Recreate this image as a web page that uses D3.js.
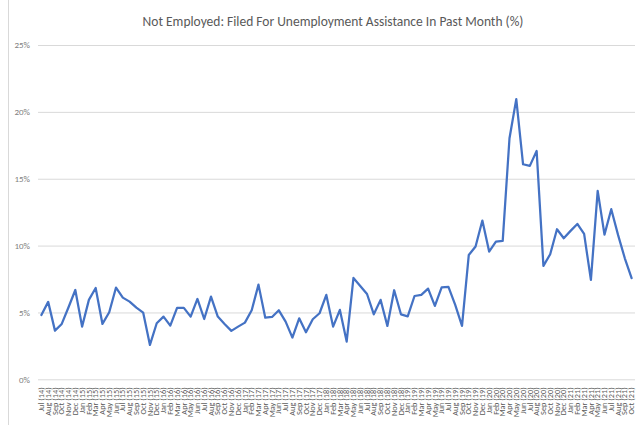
<!DOCTYPE html>
<html><head><meta charset="utf-8">
<script src="https://cdn.jsdelivr.net/npm/d3@7"></script>
<style>body{margin:0;background:#fff;}svg{display:block;}</style>
</head><body><svg id="c" width="637" height="425"></svg>
<script>
const title = "Not Employed: Filed For Unemployment Assistance In Past Month (%)";
const categories = [
"Jul (14)","Aug (14)","Sep (14)","Oct (14)","Nov (14)","Dec (14)",
"Jan (15)","Feb (15)","Mar (15)","Apr (15)","May (15)","Jun (15)","Jul (15)","Aug (15)","Sep (15)","Oct (15)","Nov (15)","Dec (15)",
"Jan (16)","Feb (16)","Mar (16)","Apr (16)","May (16)","Jun (16)","Jul (16)","Aug (16)","Sep (16)","Oct (16)","Nov (16)","Dec (16)",
"Jan (17)","Feb (17)","Mar (17)","Apr (17)","May (17)","Jun (17)","Jul (17)","Aug (17)","Sep (17)","Oct (17)","Nov (17)","Dec (17)",
"Jan (18)","Feb (18)","Mar (18)","Apr (18)","May (18)","Jun (18)","Jul (18)","Aug (18)","Sep (18)","Oct (18)","Nov (18)","Dec (18)",
"Jan (19)","Feb (19)","Mar (19)","Apr (19)","May (19)","Jun (19)","Jul (19)","Aug (19)","Sep (19)","Oct (19)","Nov (19)","Dec (19)",
"Jan (20)","Feb (20)","Mar (20)","Apr (20)","May (20)","Jun (20)","Jul (20)","Aug (20)","Sep (20)","Oct (20)","Nov (20)","Dec (20)",
"Jan (21)","Feb (21)","Mar (21)","Apr (21)","May (21)","Jun (21)","Jul (21)","Aug (21)","Sep (21)","Oct (21)"
];
const values = [
4.81,5.79,3.64,4.14,5.39,6.68,3.94,5.94,6.83,4.14,5.01,6.86,6.11,5.81,5.36,4.99,2.57,4.19,
4.69,4.01,5.34,5.34,4.69,6.01,4.51,6.18,4.69,4.14,3.62,3.94,
4.24,5.16,7.08,4.61,4.66,5.16,4.31,3.12,4.56,3.52,4.49,4.94,
6.31,3.94,5.19,2.82,7.58,6.98,6.38,4.86,5.94,3.99,6.66,4.86,
4.71,6.23,6.31,6.78,5.49,6.88,6.91,5.56,3.99,9.30,9.93,11.87,
9.55,10.30,10.35,18.03,20.95,16.08,15.96,17.08,8.48,9.35,11.22,10.55,
11.10,11.62,10.87,7.43,14.09,10.82,12.72,10.80,9.05,7.56
];
const yTicks = [0,5,10,15,20,25];

const svg = d3.select("#c");
const font = "Calibri, Carlito, Lato, 'Open Sans', sans-serif";
const L = 38, R = 635, T = 45, B = 379.3;
const x = d3.scaleBand().domain(categories).range([L, R]);
const y = d3.scaleLinear().domain([0, 25]).range([B, T]);

// chart border (left edge visible)
svg.append("line").attr("x1",8.5).attr("x2",8.5).attr("y1",0).attr("y2",425)
  .attr("stroke","#d9d9d9").attr("stroke-width",1);

svg.append("text").attr("x", 333).attr("y", 26).attr("text-anchor","middle")
  .attr("font-family", font).attr("font-size", 13.5).attr("fill","#595959").text(title);

const yAxis = d3.axisLeft(y).tickValues(yTicks).tickSize(-(R - L)).tickFormat(d => d + "%");
const gy = svg.append("g").attr("transform", `translate(${L},0)`).call(yAxis);
gy.select(".domain").remove();
gy.selectAll(".tick line").attr("stroke","#d9d9d9").attr("stroke-width",1);
gy.selectAll(".tick text").attr("x",-8).attr("font-family",font).attr("font-size",9).attr("fill","#7f7f7f");

const xAxis = d3.axisBottom(x).tickSize(0);
const gx = svg.append("g").attr("transform", `translate(0,${B})`).call(xAxis);
gx.select(".domain").remove();
gx.selectAll(".tick text")
  .attr("font-family",font).attr("font-size",8.3).attr("fill","#595959")
  .attr("text-anchor","end").attr("dy","0.32em").attr("y",0)
  .attr("transform","translate(0,8) rotate(-90)");

const line = d3.line().x((d,i) => x(categories[i]) + x.bandwidth()/2).y(d => y(d));
svg.append("path").datum(values).attr("d", line).attr("fill","none")
  .attr("stroke","#4472C4").attr("stroke-width",2.25).attr("stroke-linejoin","round").attr("stroke-linecap","round");
</script></body></html>
